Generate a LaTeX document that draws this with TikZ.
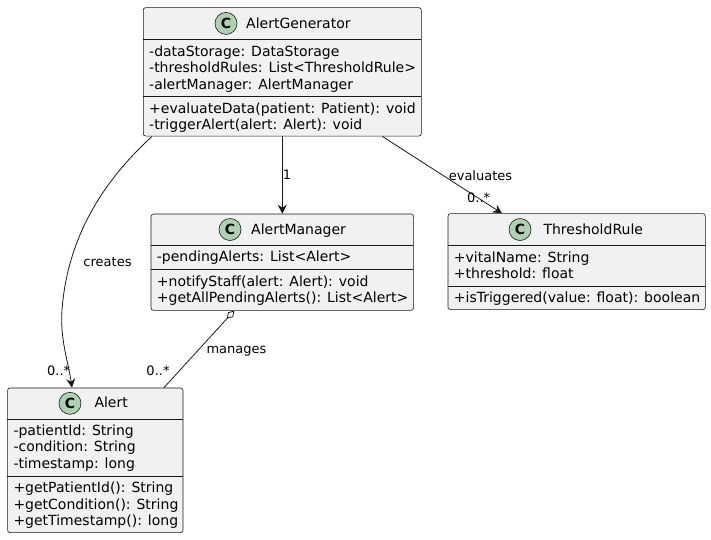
\documentclass[tikz,border=0pt]{standalone}
\usepackage{fontspec}
\setmainfont{DejaVu Sans}
\usetikzlibrary{arrows.meta}
\definecolor{linec}{HTML}{181818}
\definecolor{boxc}{HTML}{F1F1F1}
\definecolor{iconc}{HTML}{ADD1B2}
\tikzset{
  classbox/.style={draw=linec, fill=boxc, rounded corners=2.5pt, line width=0.6pt, inner sep=0pt, anchor=north west},
  sepline/.style={draw=linec, line width=0.6pt},
  cicon/.style={circle, draw=linec, fill=iconc, line width=0.6pt, minimum size=22pt, inner sep=0pt, font=\bfseries\fontsize{14}{14}\selectfont},
  ctitle/.style={anchor=base west, inner sep=0pt, font=\fontsize{14}{16}\selectfont},
  member/.style={anchor=base west, inner sep=0pt, font=\fontsize{14}{16}\selectfont},
  lbl/.style={inner sep=0pt, font=\fontsize{13}{15}\selectfont, text height=9.5pt, text depth=2.5pt},
  arr/.style={-{Stealth[length=9pt,width=9pt,inset=3pt]}, line width=0.8pt, draw=linec},
  agg/.style={{Diamond[open,length=11pt,width=7pt]}-, line width=0.8pt, draw=linec}
}
\begin{document}
\begin{tikzpicture}[x=1pt,y=-1pt]
\useasboundingbox (0,0) rectangle (711,539);

% AlertGenerator
\node[classbox, minimum width=278pt, minimum height=128.5pt] (ag) at (143,7.3) {};
\draw[sepline] (143,39.5) -- (421,39.5);
\draw[sepline] (143,95.8) -- (421,95.8);
\node[cicon] (agc) at (226,23.4) {C};
\node[ctitle] (agt) at (246,28) {AlertGenerator};
\node[member] (ag1) at (149,56.6) {-dataStorage: DataStorage};
\node[member] (ag2) at (149,72.9) {-thresholdRules: List<ThresholdRule>};
\node[member] (ag3) at (149,89.2) {-alertManager: AlertManager};
\node[member] (ag4) at (149,113) {+evaluateData(patient: Patient): void};
\node[member] (ag5) at (149,129.3) {-triggerAlert(alert: Alert): void};

% AlertManager
\node[classbox, minimum width=262.6pt, minimum height=96.3pt] (am) at (150.7,213.7) {};
\draw[sepline] (150.7,245.3) -- (413.3,245.3);
\draw[sepline] (150.7,269) -- (413.3,269);
\node[cicon] (amc) at (230,229.5) {C};
\node[ctitle] (amt) at (251,234.1) {AlertManager};
\node[member] (am1) at (156.7,261.4) {-pendingAlerts: List<Alert>};
\node[member] (am2) at (156.7,286.2) {+notifyStaff(alert: Alert): void};
\node[member] (am3) at (156.7,302.3) {+getAllPendingAlerts(): List<Alert>};

% ThresholdRule
\node[classbox, minimum width=257.3pt, minimum height=96pt] (tr) at (447.7,213.3) {};
\draw[sepline] (447.7,245.7) -- (705,245.7);
\draw[sepline] (447.7,286.7) -- (705,286.7);
\node[cicon] (trc) at (520,229.5) {C};
\node[ctitle] (trt) at (543.3,234.1) {ThresholdRule};
\node[member] (tr1) at (453.7,262.2) {+vitalName: String};
\node[member] (tr2) at (453.7,278.8) {+threshold: float};
\node[member] (tr3) at (453.7,302.2) {+isTriggered(value: float): boolean};

% Alert
\node[classbox, minimum width=175.4pt, minimum height=144.6pt] (al) at (7.3,387.7) {};
\draw[sepline] (7.3,419) -- (182.7,419);
\draw[sepline] (7.3,476.7) -- (182.7,476.7);
\node[cicon] (alc) at (70,403.3) {C};
\node[ctitle] (alt) at (94.3,407.9) {Alert};
\node[member] (al1) at (13.3,435.5) {-patientId: String};
\node[member] (al2) at (13.3,451.8) {-condition: String};
\node[member] (al3) at (13.3,468.1) {-timestamp: long};
\node[member] (al4) at (13.3,492.8) {+getPatientId(): String};
\node[member] (al5) at (13.3,509.1) {+getCondition(): String};
\node[member] (al6) at (13.3,525.4) {+getTimestamp(): long};

% connectors
\draw[arr] (ag.south) -- (ag.south |- am.north);
\draw[arr] ([xshift=-39.3pt]ag.south east) -- ([xshift=-74.7pt]tr.north);
\draw[arr] ([xshift=-130.3pt]ag.south) .. controls (110,175) and (68,230) .. (62,310)
  .. controls (60,340) and (68,360) .. ([xshift=-23.3pt]al.north);
\draw[agg] ([xshift=-48pt]am.south) -- ([xshift=-19.4pt]al.north east);

% labels
\node[lbl] (l1) at (287,176) {1};
\node[lbl] (lev) at (480.5,176.5) {evaluates};
\node[lbl] (lev2) at (478.7,199) {0..*};
\node[lbl] (lcr) at (107.5,262.5) {creates};
\node[lbl] (lcr2) at (58.7,372) {0..*};
\node[lbl] (lma) at (236.5,349.5) {manages};
\node[lbl] (lma2) at (158,372) {0..*};
\end{tikzpicture}
\end{document}
